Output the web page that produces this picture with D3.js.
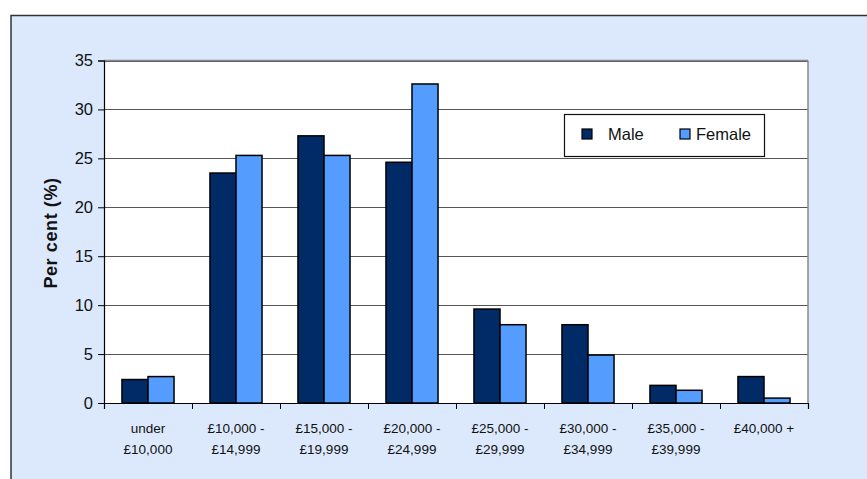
<!DOCTYPE html>
<html>
<head>
<meta charset="utf-8">
<script src="https://cdn.jsdelivr.net/npm/d3@7"></script>
<style>
  html, body { margin: 0; padding: 0; background: #ffffff; }
  svg { display: block; font-family: "Liberation Sans", Arial, sans-serif; }
</style>
</head>
<body>
<svg id="chart" width="867" height="479"></svg>
<script>
const categories = [
  ["under", "£10,000"],
  ["£10,000 -", "£14,999"],
  ["£15,000 -", "£19,999"],
  ["£20,000 -", "£24,999"],
  ["£25,000 -", "£29,999"],
  ["£30,000 -", "£34,999"],
  ["£35,000 -", "£39,999"],
  ["£40,000 +"]
];
const seriesNames = ["Male", "Female"];
const maleValues   = [2.4, 23.5, 27.3, 24.6, 9.6, 8.0, 1.8, 2.7];
const femaleValues = [2.7, 25.3, 25.3, 32.6, 8.0, 4.9, 1.3, 0.5];
const yTicks = [0, 5, 10, 15, 20, 25, 30, 35];
const yLabel = "Per cent (%)";
const colors = { Male: "#002b67", Female: "#559cff" };

const svg = d3.select("#chart");
const W = 867, H = 479;
const plot = { left: 104, right: 808, top: 60.5, bottom: 403 };

// outer frame
svg.append("rect").attr("x", 11).attr("y", 15.5).attr("width", W).attr("height", H)
  .attr("fill", "#dce9fc").attr("stroke", "#333").attr("stroke-width", 1.5);

const catIdx = categories.map((d, i) => i);
const x0 = d3.scaleBand().domain(catIdx).range([plot.left, plot.right]).padding(0);
const x1 = d3.scaleBand().domain(seriesNames).range([0, x0.bandwidth()])
  .paddingInner(0).paddingOuter(0.69);
const y = d3.scaleLinear().domain([0, 35]).range([plot.bottom, plot.top]);

// plot area
svg.append("rect").attr("x", plot.left).attr("y", plot.top)
  .attr("width", plot.right - plot.left).attr("height", plot.bottom - plot.top)
  .attr("fill", "#ffffff");

// gridlines
svg.append("g").selectAll("line").data(yTicks.filter(t => t > 0)).join("line")
  .attr("x1", plot.left).attr("x2", plot.right)
  .attr("y1", d => Math.round(y(d)) + 0.5).attr("y2", d => Math.round(y(d)) + 0.5)
  .attr("stroke", "#555").attr("stroke-width", 1);

// plot border
svg.append("line").attr("x1", plot.right).attr("x2", plot.right)
  .attr("y1", plot.top).attr("y2", plot.bottom)
  .attr("stroke", "#888").attr("stroke-width", 1.5);
svg.append("line").attr("x1", plot.left).attr("x2", plot.right)
  .attr("y1", plot.top).attr("y2", plot.top)
  .attr("stroke", "#888").attr("stroke-width", 1.5);

// bars
const rows = catIdx.map(i => ({ i, Male: maleValues[i], Female: femaleValues[i] }));
const groups = svg.append("g").selectAll("g").data(rows).join("g")
  .attr("transform", d => `translate(${x0(d.i)},0)`);
groups.selectAll("rect").data(d => seriesNames.map(s => ({ s, v: d[s] }))).join("rect")
  .attr("x", d => x1(d.s))
  .attr("y", d => y(d.v))
  .attr("width", x1.bandwidth())
  .attr("height", d => y(0) - y(d.v))
  .attr("fill", d => colors[d.s])
  .attr("stroke", "#000").attr("stroke-width", 1.5);

// y axis
const yAxis = d3.axisLeft(y).tickValues(yTicks).tickSize(6).tickPadding(5);
const gy = svg.append("g").attr("transform", `translate(${plot.left},0)`).call(yAxis);
gy.select(".domain").attr("stroke", "#000").attr("stroke-width", 1.2);
gy.selectAll(".tick line").attr("stroke", "#000");
gy.selectAll(".tick text").attr("font-size", "16.5px").attr("fill", "#111")
  .attr("font-family", "Liberation Sans, Arial, sans-serif");

// x axis
const xTickScale = d3.scaleLinear().domain([0, categories.length]).range([plot.left, plot.right]);
const xAxis = d3.axisBottom(xTickScale).tickValues(d3.range(0, categories.length + 1))
  .tickSize(6).tickFormat("");
const gx = svg.append("g").attr("transform", `translate(0,${plot.bottom})`).call(xAxis);
gx.select(".domain").attr("stroke", "#000").attr("stroke-width", 1.2);
gx.selectAll(".tick line").attr("stroke", "#000");

// x labels
const lab = svg.append("g").selectAll("text").data(catIdx).join("text")
  .attr("x", i => x0(i) + x0.bandwidth() / 2)
  .attr("y", 433)
  .attr("text-anchor", "middle")
  .attr("font-size", "13.5px").attr("fill", "#111");
lab.selectAll("tspan").data(i => categories[i]).join("tspan")
  .attr("x", function () { return d3.select(this.parentNode).attr("x"); })
  .attr("dy", (d, j) => j === 0 ? 0 : 21)
  .text(d => d);

// y label
svg.append("text")
  .attr("transform", `translate(57,233) rotate(-90)`)
  .attr("text-anchor", "middle")
  .attr("font-size", "18px").attr("font-weight", "bold")
  .attr("letter-spacing", "0.6px")
  .attr("fill", "#111")
  .text(yLabel);

// legend
const lg = svg.append("g");
lg.append("rect").attr("x", 564.5).attr("y", 114.5).attr("width", 200).attr("height", 42)
  .attr("fill", "#fff").attr("stroke", "#111").attr("stroke-width", 1.2);
const legendItems = [
  { s: "Male", mx: 582, tx: 608 },
  { s: "Female", mx: 680, tx: 696 }
];
legendItems.forEach(it => {
  lg.append("rect").attr("x", it.mx).attr("y", 129).attr("width", 10).attr("height", 10)
    .attr("fill", colors[it.s]).attr("stroke", "#000").attr("stroke-width", 1.2);
  lg.append("text").attr("x", it.tx).attr("y", 140)
    .attr("font-size", "16.5px").attr("fill", "#111").text(it.s);
});
</script>
</body>
</html>
